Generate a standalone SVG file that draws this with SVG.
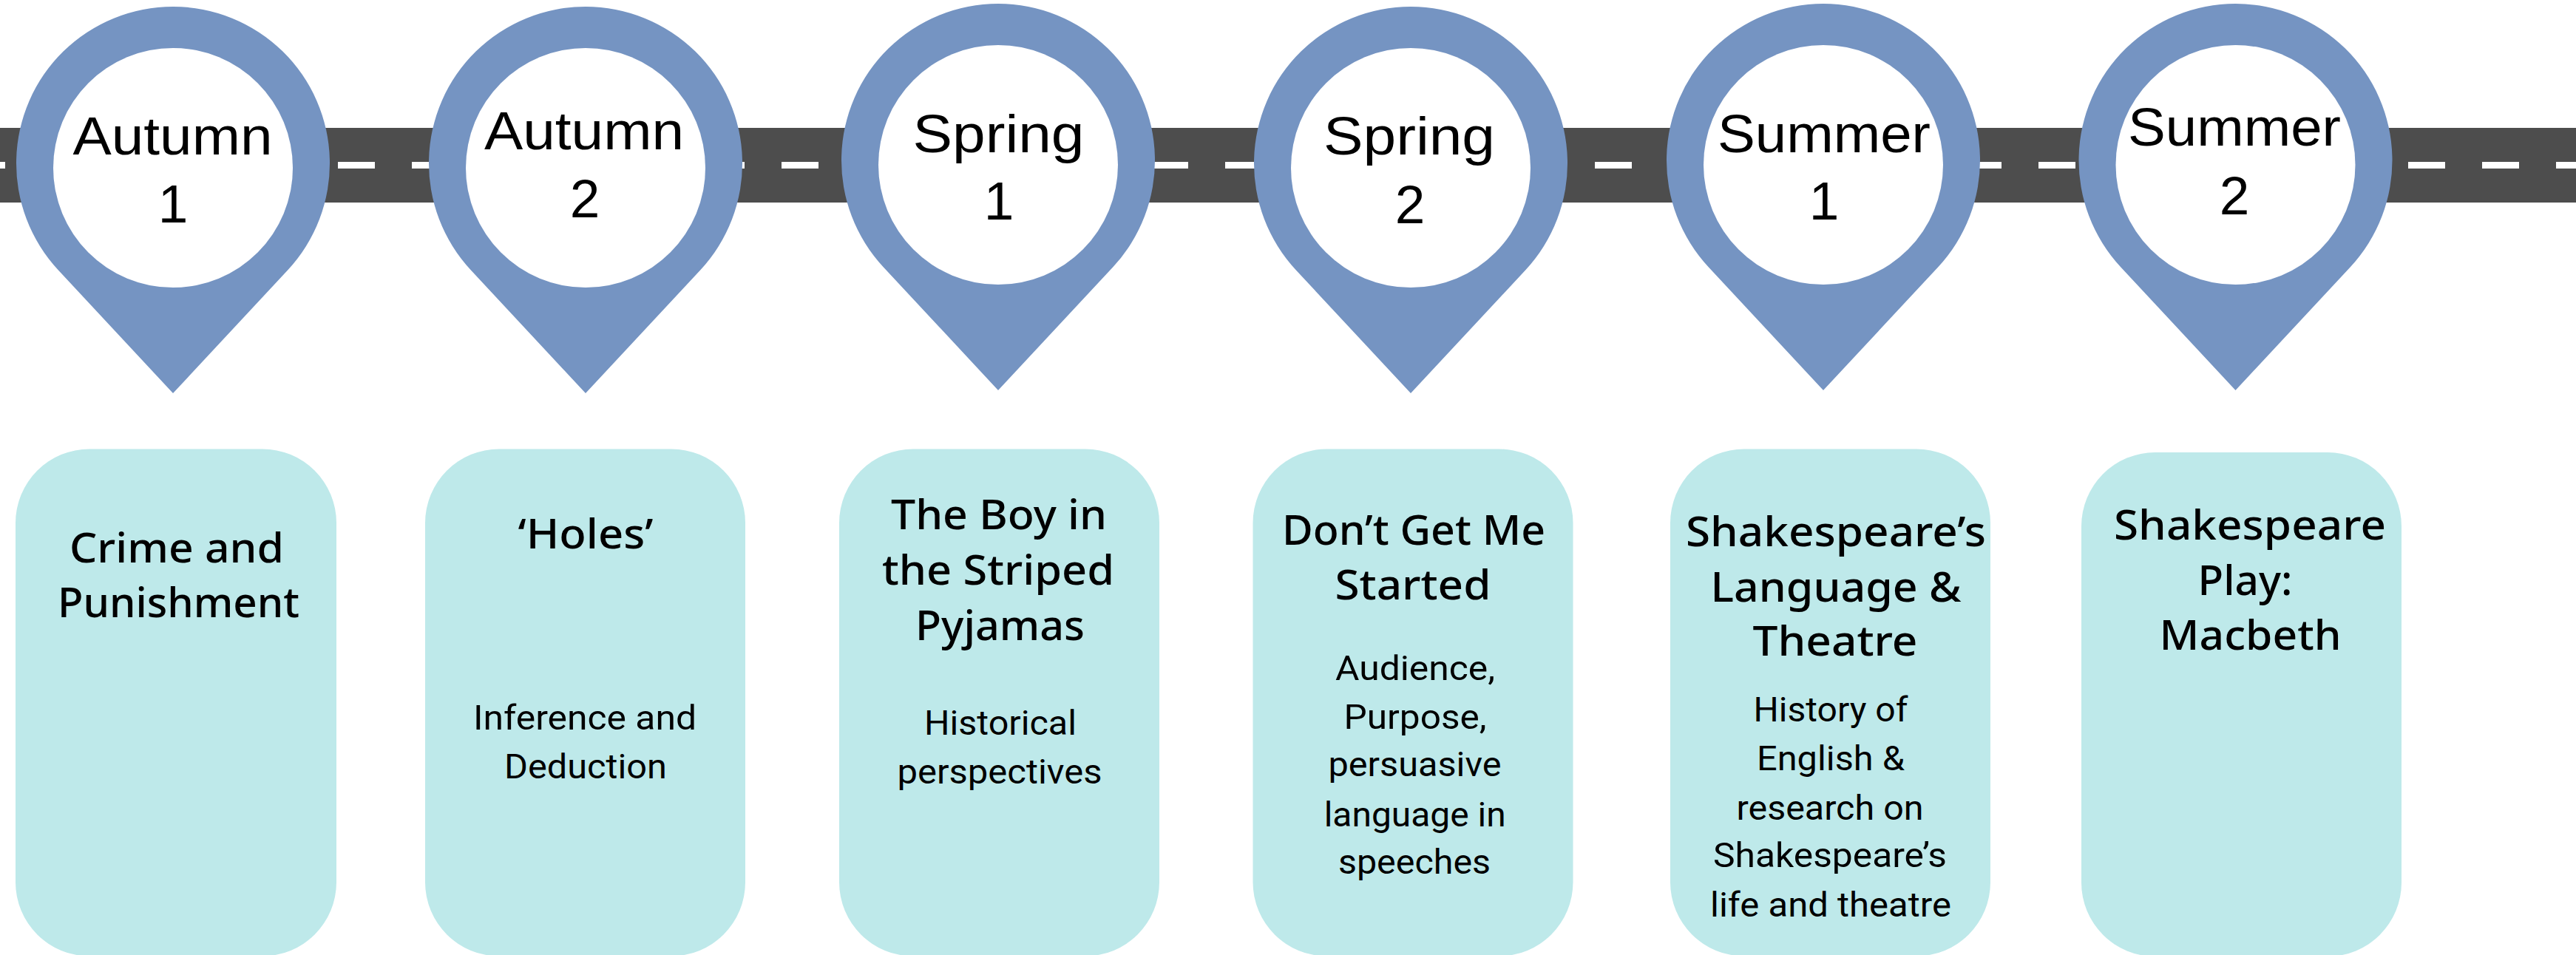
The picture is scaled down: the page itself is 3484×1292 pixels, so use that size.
<svg xmlns="http://www.w3.org/2000/svg" xmlns:xlink="http://www.w3.org/1999/xlink" width="3484" height="1292" viewBox="0 0 3484 1292">
  <style>
    .road { fill: #4d4d4d; }
    .dash { stroke: #ffffff; stroke-width: 9; stroke-dasharray: 50 50; fill: none; }
    .pin { fill: #7594c2; }
    .hole { fill: #ffffff; }
    .card { fill: #bee9ea; }
    .pl { font-family: "Liberation Sans", Arial, sans-serif; font-size: 73px; fill: #000; text-anchor: middle; }
    .tt { font-family: "Noto Sans", "Liberation Sans", sans-serif; font-weight: 500; font-size: 56px; fill: #000; text-anchor: middle; }
    .bd { font-family: "Roboto", "Liberation Sans", sans-serif; font-size: 47px; fill: #000; text-anchor: middle; }
  </style>
  <defs>
    <path id="pinShape" d="M0,311 L-155.1,144.5 A212,212 0 1 1 155.1,144.5 Z"/>
  </defs>
  <rect width="3484" height="1292" fill="#ffffff"/>

  <g id="road">
    <rect class="road" x="0" y="173" width="3484" height="101"/>
    <line class="dash" x1="-43" y1="223.5" x2="3500" y2="223.5"/>
  </g>

  <g id="connectors"></g>

  <g id="pin-autumn1">
    <use href="#pinShape" class="pin" x="234" y="221"/>
    <circle class="hole" cx="234" cy="227" r="162"/>
    <text class="pl" x="233.5" y="209" textLength="270" lengthAdjust="spacingAndGlyphs">Autumn</text>
    <text class="pl" x="234" y="301">1</text>
  </g>
  <g id="pin-autumn2">
    <use href="#pinShape" class="pin" x="792" y="221"/>
    <circle class="hole" cx="792" cy="227" r="162"/>
    <text class="pl" x="790" y="202" textLength="270" lengthAdjust="spacingAndGlyphs">Autumn</text>
    <text class="pl" x="791" y="294">2</text>
  </g>
  <g id="pin-spring1">
    <use href="#pinShape" class="pin" x="1350" y="217"/>
    <circle class="hole" cx="1350" cy="223" r="162"/>
    <text class="pl" x="1350.5" y="206" textLength="232" lengthAdjust="spacingAndGlyphs">Spring</text>
    <text class="pl" x="1351" y="297">1</text>
  </g>
  <g id="pin-spring2">
    <use href="#pinShape" class="pin" x="1908" y="221"/>
    <circle class="hole" cx="1908" cy="227" r="162"/>
    <text class="pl" x="1906" y="209" textLength="232" lengthAdjust="spacingAndGlyphs">Spring</text>
    <text class="pl" x="1907" y="302">2</text>
  </g>
  <g id="pin-summer1">
    <use href="#pinShape" class="pin" x="2466" y="217"/>
    <circle class="hole" cx="2466" cy="223" r="162"/>
    <text class="pl" x="2467" y="206" textLength="288" lengthAdjust="spacingAndGlyphs">Summer</text>
    <text class="pl" x="2467" y="297">1</text>
  </g>
  <g id="pin-summer2">
    <use href="#pinShape" class="pin" x="3023.5" y="217"/>
    <circle class="hole" cx="3023.5" cy="223" r="162"/>
    <text class="pl" x="3022" y="197" textLength="288" lengthAdjust="spacingAndGlyphs">Summer</text>
    <text class="pl" x="3022" y="290">2</text>
  </g>

  <g id="card-crime">
    <rect class="card" x="21" y="607.5" width="434" height="686" rx="100" ry="100"/>
    <text class="tt" x="239" y="760.7" textLength="290" lengthAdjust="spacingAndGlyphs">Crime and</text>
    <text class="tt" x="241.5" y="834.5" textLength="327" lengthAdjust="spacingAndGlyphs">Punishment</text>
  </g>
  <g id="card-holes">
    <rect class="card" x="575" y="607.5" width="433" height="686" rx="100" ry="100"/>
    <text class="tt" x="792" y="742" textLength="183" lengthAdjust="spacingAndGlyphs">‘Holes’</text>
    <text class="bd" x="791" y="987" textLength="302" lengthAdjust="spacingAndGlyphs">Inference and</text>
    <text class="bd" x="792" y="1052.5" textLength="220" lengthAdjust="spacingAndGlyphs">Deduction</text>
  </g>
  <g id="card-boy">
    <rect class="card" x="1135" y="607.5" width="433" height="686" rx="100" ry="100"/>
    <text class="tt" x="1351" y="716.4" textLength="292" lengthAdjust="spacingAndGlyphs">The Boy in</text>
    <text class="tt" x="1350" y="791" textLength="314" lengthAdjust="spacingAndGlyphs">the Striped</text>
    <text class="tt" x="1352.5" y="865.8" textLength="229" lengthAdjust="spacingAndGlyphs">Pyjamas</text>
    <text class="bd" x="1353" y="994" textLength="206" lengthAdjust="spacingAndGlyphs">Historical</text>
    <text class="bd" x="1352" y="1059.5" textLength="277" lengthAdjust="spacingAndGlyphs">perspectives</text>
  </g>
  <g id="card-dont">
    <rect class="card" x="1694.5" y="607.5" width="433" height="686" rx="100" ry="100"/>
    <text class="tt" x="1912" y="736.5" textLength="356" lengthAdjust="spacingAndGlyphs">Don’t Get Me</text>
    <text class="tt" x="1911" y="810.7" textLength="211" lengthAdjust="spacingAndGlyphs">Started</text>
    <text class="bd" x="1914" y="919.5" textLength="216" lengthAdjust="spacingAndGlyphs">Audience,</text>
    <text class="bd" x="1914" y="985.8" textLength="193" lengthAdjust="spacingAndGlyphs">Purpose,</text>
    <text class="bd" x="1913.5" y="1050" textLength="234" lengthAdjust="spacingAndGlyphs">persuasive</text>
    <text class="bd" x="1913.7" y="1118" textLength="246" lengthAdjust="spacingAndGlyphs">language in</text>
    <text class="bd" x="1913" y="1182.3" textLength="206" lengthAdjust="spacingAndGlyphs">speeches</text>
  </g>
  <g id="card-shakespeare-lang">
    <rect class="card" x="2259" y="607.5" width="433" height="686" rx="100" ry="100"/>
    <text class="tt" x="2483" y="738.8" textLength="406" lengthAdjust="spacingAndGlyphs">Shakespeare’s</text>
    <text class="tt" x="2483" y="813.5" textLength="339" lengthAdjust="spacingAndGlyphs">Language &amp;</text>
    <text class="tt" x="2482" y="886.8" textLength="223" lengthAdjust="spacingAndGlyphs">Theatre</text>
    <text class="bd" x="2476" y="976.4" textLength="209" lengthAdjust="spacingAndGlyphs">History of</text>
    <text class="bd" x="2476" y="1041.8" textLength="200" lengthAdjust="spacingAndGlyphs">English &amp;</text>
    <text class="bd" x="2475" y="1108.5" textLength="253" lengthAdjust="spacingAndGlyphs">research on</text>
    <text class="bd" x="2475" y="1173.4" textLength="316" lengthAdjust="spacingAndGlyphs">Shakespeare’s</text>
    <text class="bd" x="2476" y="1240.2" textLength="326" lengthAdjust="spacingAndGlyphs">life and theatre</text>
  </g>
  <g id="card-macbeth">
    <rect class="card" x="2815" y="612" width="433" height="682" rx="100" ry="100"/>
    <text class="tt" x="3043" y="730.4" textLength="368" lengthAdjust="spacingAndGlyphs">Shakespeare</text>
    <text class="tt" x="3036.6" y="805" textLength="128" lengthAdjust="spacingAndGlyphs">Play:</text>
    <text class="tt" x="3043.6" y="878.9" textLength="246" lengthAdjust="spacingAndGlyphs">Macbeth</text>
  </g>
</svg>
